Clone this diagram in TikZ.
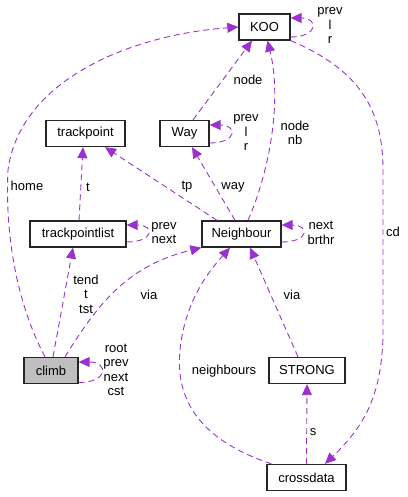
\documentclass[tikz,border=0pt]{standalone}
\usepackage{fontspec}
\setmainfont{Liberation Sans}
\usetikzlibrary{arrows.meta}

\definecolor{edgepurple}{RGB}{155,50,205}
\definecolor{climbgray}{RGB}{191,191,191}

\tikzset{
    classbox/.style={draw=black!85, line width=1.3pt, minimum height=26pt, inner sep=0pt, font=\fontsize{13}{14}\selectfont},
    uses/.style={draw=edgepurple, line width=0.9pt, dash pattern=on 6pt off 4pt, -{Triangle[length=11pt,width=10pt,fill=edgepurple]}},
    edgelabel/.style={align=center, inner sep=0pt, font=\fontsize{13}{14.5}\selectfont}
}

\begin{document}
\begin{tikzpicture}[x=1pt, y=-1pt]
    \useasboundingbox (0,0) rectangle (407,497);

    % Classes
    \node[classbox, minimum width=51pt] (KOO) at (264.5,27) {KOO};
    \node[classbox, minimum width=79pt] (trackpoint) at (85.5,133.5) {trackpoint};
    \node[classbox, minimum width=49pt] (Way) at (184.5,133.5) {Way};
    \node[classbox, minimum width=96pt] (trackpointlist) at (78,234) {trackpointlist};
    \node[classbox, minimum width=79pt] (Neighbour) at (241.5,234) {Neighbour};
    \node[classbox, minimum width=54pt, fill=climbgray] (climb) at (51,370.5) {climb};
    \node[classbox, minimum width=76pt] (STRONG) at (307,370.5) {STRONG};
    \node[classbox, minimum width=79pt] (crossdata) at (306.5,477.5) {crossdata};

    % Self references
    \draw[uses] ([yshift=-10pt]KOO.east) .. controls +(28,0) and +(28,0) .. ([yshift=9pt]KOO.east);
    \draw[uses] ([yshift=-9.5pt]Way.east) .. controls +(28,0) and +(28,0) .. ([yshift=8.5pt]Way.east);
    \draw[uses] ([yshift=-8pt]trackpointlist.east) .. controls +(28,0) and +(28,0) .. ([yshift=9pt]trackpointlist.east);
    \draw[uses] ([yshift=-8pt]Neighbour.east) .. controls +(28,0) and +(28,0) .. ([yshift=9pt]Neighbour.east);
    \draw[uses] ([yshift=-12pt]climb.east) .. controls +(30,0) and +(30,0) .. ([yshift=8.5pt]climb.east);

    % Members
    \draw[uses] ([xshift=-6pt]climb.north) .. controls (15,300) and (5,230) .. (8,170)
        .. controls (20,80) and (130,35) .. (KOO.west);
    \draw[uses] (Way.north) ++(8.5pt,0) -- ([xshift=-12.5pt]KOO.south);
    \draw[uses] ([xshift=6.5pt]Neighbour.north) .. controls (270,170) and (282,100) .. ([xshift=3pt]KOO.south);
    \draw[uses] (KOO.south east) .. controls (360,70) and (383,110) .. (383,170) -- (383,330)
        .. controls (383,400) and (360,430) .. ([xshift=18.5pt]crossdata.north);
    \draw[uses] ([xshift=1pt]trackpointlist.north) -- ([xshift=-2.5pt]trackpoint.south);
    \draw[uses] ([xshift=-24.5pt]Neighbour.north) -- ([xshift=19.5pt]trackpoint.south);
    \draw[uses] ([xshift=-6.5pt]Neighbour.north) -- ([xshift=7.5pt]Way.south);
    \draw[uses] ([xshift=2pt]climb.north) -- ([xshift=-5pt]trackpointlist.south);
    \draw[uses] ([xshift=14pt]climb.north) .. controls (100,300) and (130,265) .. (Neighbour.south west);
    \draw[uses] ([xshift=5pt]crossdata.north west) .. controls (200,440) and (175,400) .. (180,350)
        .. controls (185,300) and (210,270) .. ([xshift=-11.5pt]Neighbour.south);
    \draw[uses] ([xshift=-9pt]STRONG.north) -- ([xshift=8.5pt]Neighbour.south);
    \draw[uses] (crossdata.north) -- (STRONG.south);

    % Labels
    \node[edgelabel] (lblhome) at (27,186) {home};
    \node[edgelabel] (lblkoo) at (330,26) {prev\\l\\r};
    \node[edgelabel] (lblway) at (246,133) {prev\\l\\r};
    \node[edgelabel] (lblnode) at (248,80) {node};
    \node[edgelabel] (lblnodenb) at (295,133) {node\\nb};
    \node[edgelabel] (lblcd) at (393,232) {cd};
    \node[edgelabel] (lblt) at (88,187) {t};
    \node[edgelabel] (lbltp) at (187,187) {tp};
    \node[edgelabel] (lblwaym) at (233,187) {way};
    \node[edgelabel] (lbltpl) at (164,233) {prev\\next};
    \node[edgelabel] (lblnb) at (321,233) {next\\brthr};
    \node[edgelabel] (lbltend) at (86,294) {tend\\t\\tst};
    \node[edgelabel] (lblvia) at (149,295) {via};
    \node[edgelabel] (lblvias) at (292,295) {via};
    \node[edgelabel] (lblclimb) at (116,370) {root\\prev\\next\\cst};
    \node[edgelabel] (lblneigh) at (224,371) {neighbours};
    \node[edgelabel] (lbls) at (313,432) {s};
\end{tikzpicture}
\end{document}
